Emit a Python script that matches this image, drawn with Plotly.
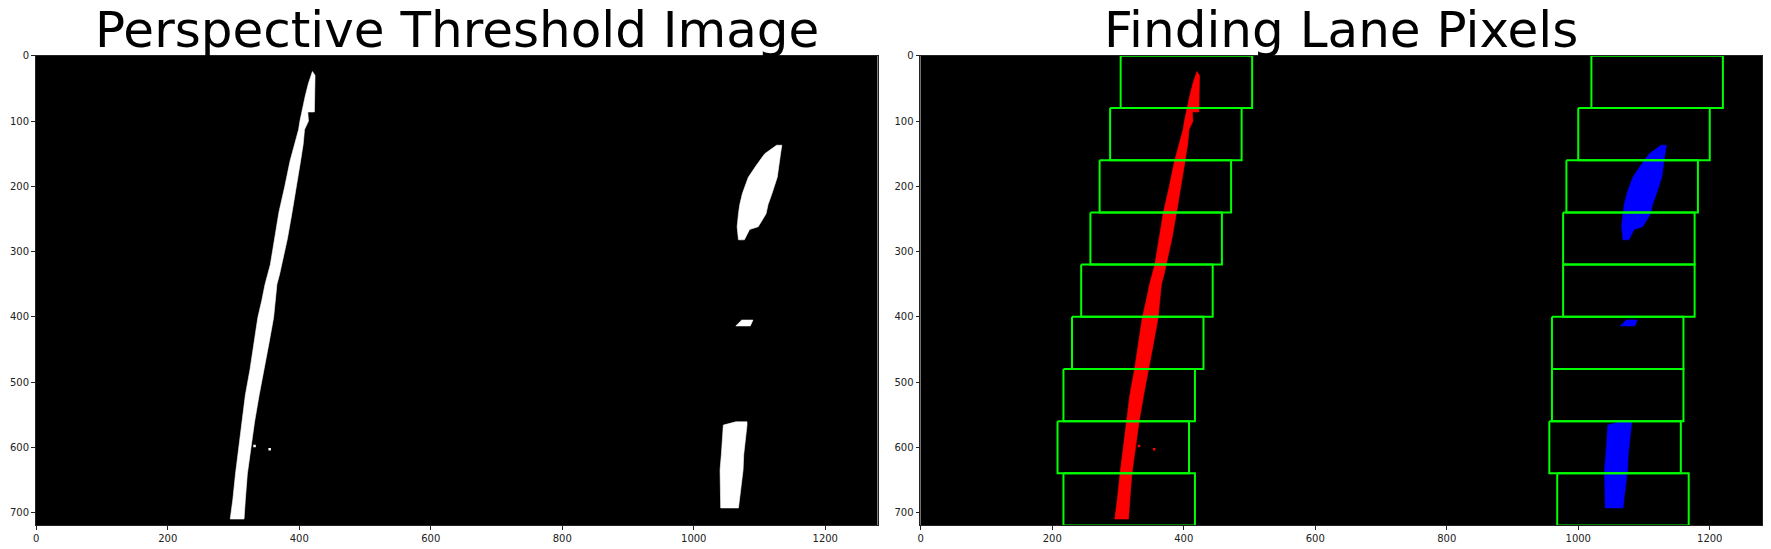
import plotly.graph_objects as go

W, H = 1771, 549
IMG_W, IMG_H = 1280, 720

# lane pixel outlines, image coordinates (x, y)
left_lane_x = [295, 299, 303, 308, 312, 318, 325, 331, 337, 343, 348, 356, 362, 369, 378,
               386, 393, 399, 401, 404, 409, 414, 420,
               424, 424, 423, 413, 414, 408, 406, 402, 396, 389, 382, 374, 370, 366,
               361, 354, 346, 339, 332, 327, 321, 318, 316]
left_lane_y = [710, 680, 641, 600, 561, 520, 481, 440, 401, 375, 350, 320, 280, 240, 200,
               161, 135, 113, 100, 85, 62, 42, 24,
               30, 42, 86, 86, 100, 113, 135, 161, 200, 240, 280, 320, 335, 350,
               401, 440, 481, 520, 561, 600, 641, 680, 710]

right_top_x = [1126, 1134, 1132, 1129, 1127, 1119, 1113, 1110, 1098, 1085, 1077, 1068, 1066,
               1068, 1070, 1074, 1079, 1083, 1095, 1108]
right_top_y = [137, 137, 150, 170, 186, 211, 228, 242, 262, 266, 282, 282, 262,
               242, 228, 211, 198, 186, 168, 150]

right_mid_x = [1073, 1090, 1086, 1064]
right_mid_y = [405, 405, 414, 414]

right_low_x = [1064, 1081, 1081, 1078, 1076, 1075, 1073, 1068, 1041, 1041, 1040, 1042, 1043, 1045]
right_low_y = [561, 561, 566, 590, 611, 635, 652, 693, 693, 652, 635, 611, 590, 566]

speck_x = [332, 355]
speck_y = [598, 603]

# sliding windows, listed bottom to top
n_windows = 9
win_h = IMG_H // n_windows
margin = 100
left_centers = [317, 308, 317, 330, 344, 358, 372, 388, 404]
right_centers = [1068, 1056, 1060, 1060, 1077, 1077, 1082, 1100, 1120]

titles = ["Perspective Threshold Image", "Finding Lane Pixels"]
xticks = list(range(0, 1201, 200))
yticks = list(range(0, 701, 100))


def window_path(centers):
    xs, ys = [], []
    for w, c in enumerate(centers):
        y_lo = IMG_H - (w + 1) * win_h
        y_hi = IMG_H - w * win_h
        xs += [c - margin, c + margin, c + margin, c - margin, c - margin, None]
        ys += [y_lo, y_lo, y_hi, y_hi, y_lo, None]
    return xs, ys


def blob(x, y, color, ax):
    return go.Scatter(x=x + x[:1], y=y + y[:1], mode="lines", fill="toself",
                      fillcolor=color, line=dict(color=color, width=0.6),
                      xaxis=ax[0], yaxis=ax[1], hoverinfo="skip")


fig = go.Figure()

for ax, lane_col, right_col in [(("x", "y"), "white", "white"),
                                (("x2", "y2"), "#ff0000", "#0000ff")]:
    fig.add_trace(blob(left_lane_x, left_lane_y, lane_col, ax))
    fig.add_trace(blob(right_top_x, right_top_y, right_col, ax))
    fig.add_trace(blob(right_mid_x, right_mid_y, right_col, ax))
    fig.add_trace(blob(right_low_x, right_low_y, right_col, ax))
    fig.add_trace(go.Scatter(x=speck_x, y=speck_y, mode="markers",
                             marker=dict(symbol="square", size=2.5, color=lane_col),
                             xaxis=ax[0], yaxis=ax[1], hoverinfo="skip"))

for centers in (left_centers, right_centers):
    wx, wy = window_path(centers)
    fig.add_trace(go.Scatter(x=wx, y=wy, mode="lines",
                             line=dict(color="#00ff00", width=2),
                             xaxis="x2", yaxis="y2", hoverinfo="skip"))

x_doms = [[33 / W, 876 / W], [919 / W, 1762 / W]]
y_dom = [1 - 525 / H, 1 - 51 / H]

axis_common = dict(showgrid=False, zeroline=False, ticks="outside", ticklen=4,
                   tickwidth=0.8, tickcolor="#222", showline=True, linecolor="#222",
                   linewidth=0.8, mirror=True, tickfont=dict(family="DejaVu Sans", size=10, color="#222"))

layout_axes = {}
for i, dom in enumerate(x_doms):
    sfx = "" if i == 0 else str(i + 1)
    layout_axes["xaxis" + sfx] = dict(domain=dom, range=[-0.5, IMG_W - 0.5],
                                      tickvals=xticks, anchor="y" + sfx, **axis_common)
    layout_axes["yaxis" + sfx] = dict(domain=y_dom, range=[IMG_H - 0.5, -0.5],
                                      tickvals=yticks, anchor="x" + sfx, **axis_common)

annotations = []
for t, dom in zip(titles, x_doms):
    annotations.append(dict(text=t, x=(dom[0] + dom[1]) / 2, y=1 - 57 / H,
                            xref="paper", yref="paper", xanchor="center", yanchor="bottom",
                            showarrow=False,
                            font=dict(family="DejaVu Sans", size=50, color="black")))

fig.update_layout(width=W, height=H, margin=dict(l=0, r=0, t=0, b=0),
                  paper_bgcolor="white", plot_bgcolor="black", showlegend=False,
                  annotations=annotations, **layout_axes)

fig.write_html("out.html", config={"displayModeBar": False},
               post_script="document.body.style.margin='0';document.body.style.overflow='hidden';")
